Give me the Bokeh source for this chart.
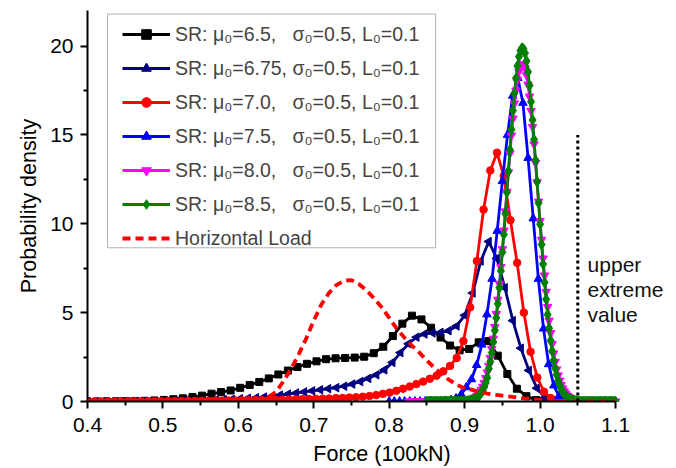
import numpy as np
from bokeh.plotting import figure
from bokeh.models import Legend, LegendItem, FixedTicker, Label, BoxAnnotation, Range1d
from bokeh.embed import file_html
from bokeh.resources import INLINE

FONT = "Liberation Sans"

# ---------------- data ----------------
X_TICKS = [0.4, 0.5, 0.6, 0.7, 0.8, 0.9, 1.0, 1.1]
X_MINOR = [0.45, 0.55, 0.65, 0.75, 0.85, 0.95, 1.05]
Y_TICKS = [0, 5, 10, 15, 20]
Y_MINOR = [2.5, 7.5, 12.5, 17.5]

# mu0 = 6.5 (black squares)
black_start, black_step = 0.4, 0.01265
black_y = [0.00, 0.00, 0.01, 0.01, 0.02, 0.03, 0.04, 0.06, 0.09, 0.13,
           0.18, 0.25, 0.33, 0.44, 0.53, 0.62, 0.77, 0.93, 1.10, 1.30,
           1.52, 1.74, 1.94, 2.12, 2.26, 2.38, 2.43, 2.45, 2.47, 2.52,
           2.72, 3.08, 3.68, 4.38, 4.83, 4.62, 4.15, 3.60, 3.15, 2.88,
           2.96, 3.33, 3.40, 2.58, 1.55, 0.72, 0.30, 0.08, 0.02, 0.01,
           0.00, 0.00, 0.00, 0.00, 0.00, 0.00]

# mu0 = 6.75 (navy left triangles)
navy_start, navy_step = 0.4, 0.01064
navy_y = [0, 0, 0, 0, 0, 0, 0, 0.01, 0.01, 0.01,
          0.02, 0.02, 0.03, 0.04, 0.05, 0.06, 0.08, 0.10, 0.12, 0.15,
          0.18, 0.21, 0.25, 0.30, 0.36, 0.42, 0.48, 0.54, 0.60, 0.66,
          0.72, 0.78, 0.86, 0.98, 1.12, 1.30, 1.50, 1.78, 2.20, 2.75,
          3.25, 3.62, 3.80, 3.86, 3.89, 3.98, 4.25, 4.85, 6.10, 7.90,
          9.00, 8.05, 6.40, 4.55, 3.00, 1.75, 0.75, 0.22, 0.05, 0.01,
          0, 0, 0, 0, 0, 0]

# mu0 = 7.0 (red circles)
red_start, red_step = 0.4, 0.0089
red_y = [0, 0, 0, 0, 0, 0, 0.01, 0.01, 0.01, 0.01,
         0.01, 0.01, 0.02, 0.02, 0.02, 0.03, 0.03, 0.04, 0.04, 0.05,
         0.05, 0.06, 0.06, 0.07, 0.07, 0.08, 0.08, 0.09, 0.10, 0.10,
         0.11, 0.12, 0.13, 0.14, 0.15, 0.16, 0.17, 0.19, 0.20, 0.22,
         0.24, 0.27, 0.31, 0.36, 0.43, 0.50, 0.60, 0.72, 0.84, 0.98,
         1.12, 1.28, 1.45, 1.70, 2.00, 2.45, 3.40, 5.30, 7.90, 10.8,
         13.0, 14.0, 12.7, 10.2, 7.80, 5.00, 2.80, 1.35, 0.55, 0.20,
         0.06, 0.02, 0.01, 0, 0, 0, 0, 0, 0]

# mu0 = 7.5 (blue triangles)
blue_start, blue_step = 0.8, 0.006818
blue_y = [0, 0, 0, 0, 0, 0, 0, 0, 0.005, 0.01,
          0.02, 0.04, 0.08, 0.18, 0.40, 0.80, 1.25, 2.05, 3.20, 4.90,
          6.90, 9.60, 12.4, 15.0, 17.2, 18.2, 16.8, 13.7, 10.3, 6.90,
          4.10, 2.10, 0.90, 0.30, 0.09, 0.03, 0.01, 0, 0, 0,
          0, 0, 0, 0, 0]

# mu0 = 8.0 (magenta inverted triangles)
mag_start, mag_step = 0.826, 0.002
mag_y = [0.0] * 36 + [
    0.02, 0.02, 0.04, 0.05, 0.07, 0.09, 0.13, 0.17, 0.23, 0.30,
    0.39, 0.51, 0.66, 0.83, 1.05, 1.32, 1.64, 2.01, 2.45, 2.96,
    3.54, 4.20, 4.93, 5.73, 6.62, 7.57, 8.57, 9.62, 10.70, 11.80,
    12.89, 13.95, 14.97, 15.92, 16.77, 17.50, 18.11, 18.57, 18.87, 18.99,
    18.95, 18.74, 18.36, 17.83, 17.16, 16.35, 15.45, 14.47, 13.43, 12.34,
    11.25, 10.16, 9.10, 8.05, 7.09, 6.17, 5.32, 4.55, 3.85, 3.24,
    2.70, 2.23, 1.81, 1.47, 1.18, 0.94, 0.74, 0.58, 0.45, 0.34,
    0.26, 0.20, 0.15, 0.11, 0.08, 0.06, 0.04, 0.03, 0.02, 0.01] + [0.0] * 22

# mu0 = 8.5 (green diamonds)
green_start, green_step = 0.85, 0.002
green_y = [0.0] * 25 + [
    0.01, 0.02, 0.03, 0.04, 0.06, 0.08, 0.11, 0.15, 0.21, 0.28,
    0.37, 0.49, 0.64, 0.82, 1.05, 1.33, 1.85, 2.25, 2.75, 3.35,
    4.00, 4.70, 5.50, 6.40, 7.35, 8.40, 9.40, 10.57, 11.77, 12.97,
    14.16, 15.30, 16.37, 17.34, 18.18, 18.88, 19.40, 19.74, 19.89, 19.84,
    19.60, 19.16, 18.55, 17.78, 16.87, 15.84, 14.74, 13.57, 12.37, 11.17,
    9.98, 8.83, 7.73, 6.70, 5.75, 4.89, 4.12, 3.43, 2.83, 2.31,
    1.87, 1.50, 1.18, 0.93, 0.72, 0.56, 0.42, 0.32, 0.24, 0.18,
    0.13, 0.09, 0.07, 0.05, 0.03, 0.02, 0.01] + [0.0] * 24

# Horizontal load (red dashed)
load_start, load_step = 0.4, 0.01
load_y = [0.0] * 20 + [
    0.01, 0.02, 0.04, 0.10, 0.25, 0.55, 1.15, 1.85, 2.65, 3.55,
    4.55, 5.45, 6.10, 6.55, 6.80, 6.83, 6.60, 6.25, 5.80, 5.30,
    4.70, 4.10, 3.60, 3.15, 2.75, 2.30, 1.90, 1.50, 1.20, 0.92,
    0.75, 0.65, 0.55, 0.45, 0.38, 0.33, 0.28, 0.22, 0.17, 0.12,
    0.09, 0.06, 0.04, 0.03, 0.02, 0.01] + [0.0] * 5

UPPER_EXTREME_X = 1.05
UPPER_EXTREME_TOP = 15.0
UPPER_TEXT = ["upper", "extreme", "value"]

SP = "\u00a0"
LEGEND_LABELS = [
    f"SR: \u03bc\u2080=6.5,{SP*3}\u03c3\u2080=0.5, L\u2080=0.1",
    f"SR: \u03bc\u2080=6.75,{SP}\u03c3\u2080=0.5, L\u2080=0.1",
    f"SR: \u03bc\u2080=7.0,{SP*3}\u03c3\u2080=0.5, L\u2080=0.1",
    f"SR: \u03bc\u2080=7.5,{SP*3}\u03c3\u2080=0.5, L\u2080=0.1",
    f"SR: \u03bc\u2080=8.0,{SP*3}\u03c3\u2080=0.5, L\u2080=0.1",
    f"SR: \u03bc\u2080=8.5,{SP*3}\u03c3\u2080=0.5, L\u2080=0.1",
    "Horizontal Load",
]


def grid(start, step, ys):
    return list(np.round(start + step * np.arange(len(ys)), 6))


series = [
    (grid(black_start, black_step, black_y), black_y, "#000000", "square", 7, 0.0),
    (grid(navy_start, navy_step, navy_y), navy_y, "#000080", "triangle", 8.5, np.pi / 2),
    (grid(red_start, red_step, red_y), red_y, "#ff0000", "circle", 7.5, 0.0),
    (grid(blue_start, blue_step, blue_y), blue_y, "#0000ff", "triangle", 8.5, 0.0),
    (grid(mag_start, mag_step, mag_y), mag_y, "#ff00ff", "inverted_triangle", 8.5, 0.0),
    (grid(green_start, green_step, green_y), green_y, "#008000", "diamond", 10.5, 0.0),
]

# ---------------- figure ----------------
# frame spans to the right edge so that the annotation text is not clipped;
# the x axis itself is bounded to 0.4..1.1
X_END = 0.4 + (676 - 87) / 754.3
p = figure(width=676, height=468, output_backend="svg", toolbar_location=None,
           x_range=Range1d(0.4, X_END), y_range=Range1d(0, 22),
           min_border_left=87, min_border_right=0, min_border_top=10, min_border_bottom=67)
p.outline_line_color = None
p.xgrid.grid_line_color = None
p.ygrid.grid_line_color = None
p.background_fill_color = "white"

items = []
for (xs, ys, color, marker, size, angle), lab in zip(series, LEGEND_LABELS[:6]):
    lr = p.line(xs, ys, line_color=color, line_width=2.8)
    sr = p.scatter(xs, ys, marker=marker, size=size, angle=angle,
                   fill_color=color, line_color=color, line_width=1)
    items.append(LegendItem(label=lab, renderers=[lr, sr]))

load_x = grid(load_start, load_step, load_y)
dr = p.line(load_x, load_y, line_color="#ff0000", line_width=3.8, line_dash="8 5")
items.append(LegendItem(label=LEGEND_LABELS[6], renderers=[dr]))

p.segment(x0=[UPPER_EXTREME_X], y0=[0], x1=[UPPER_EXTREME_X], y1=[UPPER_EXTREME_TOP],
          line_color="black", line_width=3, line_dash="3 3")

for i, t in enumerate(UPPER_TEXT):
    p.add_layout(Label(x=1.063, y=7.7 - 1.4 * i, text=t, text_baseline="middle",
                       text_font=FONT, text_font_size="21px", text_color="#111111"))

# legend frame
p.add_layout(BoxAnnotation(left=0.4265, right=0.8614, bottom=8.65, top=21.8,
                           fill_color=None, line_color="black", line_width=1))

legend = Legend(items=items, location=(35, 151), orientation="vertical",
                glyph_width=48, glyph_height=24, label_height=24, spacing=10,
                padding=0, margin=0, label_standoff=5,
                label_text_font=FONT, label_text_font_size="19.5px",
                border_line_alpha=0, background_fill_alpha=0)
p.add_layout(legend)

# axes
for ax in (p.xaxis[0], p.yaxis[0]):
    ax.axis_line_width = 2
    ax.major_tick_line_width = 2
    ax.minor_tick_line_width = 2
    ax.major_tick_out = 7
    ax.major_tick_in = 0
    ax.minor_tick_out = 4
    ax.minor_tick_in = 0
    ax.major_label_text_font = FONT
    ax.major_label_text_font_size = "21px"
    ax.major_label_text_color = "black"
    ax.axis_label_text_font = FONT
    ax.axis_label_text_font_size = "21.5px"
    ax.axis_label_text_font_style = "normal"
    ax.axis_label_text_color = "black"

p.xaxis.bounds = (0.4, 1.1)
p.xaxis.ticker = FixedTicker(ticks=X_TICKS, minor_ticks=X_MINOR)
p.yaxis.ticker = FixedTicker(ticks=Y_TICKS, minor_ticks=Y_MINOR)
p.xaxis.major_label_overrides = {t: f"{t:.1f}" for t in X_TICKS}
p.xaxis.axis_label = "Force (100kN)"
p.yaxis.axis_label = "Probability density"
p.xaxis.major_label_standoff = 9
p.yaxis.major_label_standoff = 7
p.xaxis.axis_label_standoff = 7
p.yaxis.axis_label_standoff = 6

open("out.html", "w").write(file_html(p, INLINE))
